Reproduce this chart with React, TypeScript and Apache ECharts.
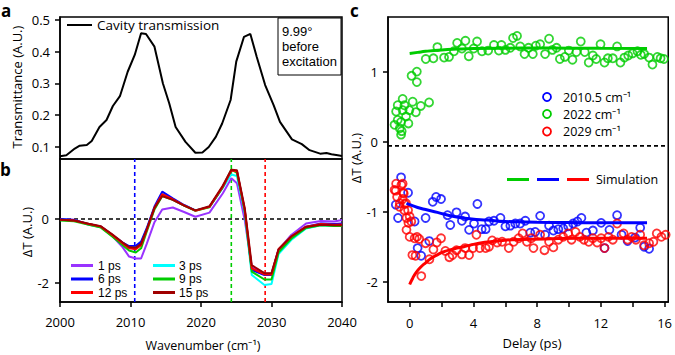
import React, { useEffect, useRef } from "react";
import * as echarts from "echarts";

// ---------- Panel a: cavity transmission ----------
const wnA = [2000, 2000.9, 2002.1, 2002.8, 2003.8, 2004.5, 2005.6, 2006.6, 2007.5, 2008.5, 2009.6, 2010.6, 2011.5, 2012.2, 2013.4, 2014.6, 2015.5, 2016.4, 2017.8, 2019.2, 2020.2, 2021.1, 2022.1, 2023.0, 2024.2, 2025.0, 2026.1, 2027.0, 2027.9, 2029.1, 2030.3, 2031.2, 2032.9, 2034.3, 2035.4, 2036.9, 2037.8, 2038.5, 2039.4, 2040];
const transA = [0.071, 0.074, 0.095, 0.104, 0.106, 0.119, 0.163, 0.185, 0.229, 0.26, 0.337, 0.39, 0.458, 0.456, 0.416, 0.30, 0.237, 0.163, 0.116, 0.082, 0.083, 0.10, 0.132, 0.174, 0.248, 0.369, 0.447, 0.456, 0.384, 0.295, 0.232, 0.179, 0.124, 0.109, 0.090, 0.079, 0.081, 0.077, 0.074, 0.072];
const ticksA = [0.1, 0.2, 0.3, 0.4, 0.5];
const noteA = ["9.99°", "before", "excitation"];

// ---------- Panel b: transient spectra ----------
const wnB = [2000, 2002, 2004.1, 2005.8, 2007.4, 2008.9, 2009.8, 2010.75, 2011.5, 2012.3, 2013.4, 2014.5, 2016, 2017.6, 2019.2, 2021.2, 2023.1, 2024.3, 2025.1, 2026.2, 2027.2, 2029.0, 2030.0, 2031.0, 2032.8, 2034.9, 2037.0, 2038.9, 2040];
const dT1ps = [0, -0.02, -0.18, -0.25, -0.53, -0.89, -1.18, -1.24, -1.24, -0.78, -0.1, 0.3, 0.36, 0.22, 0.07, 0.2, 0.81, 1.28, 1.12, -0.03, -1.5, -1.71, -1.71, -0.97, -0.5, -0.14, -0.06, -0.08, -0.03];
const dT3ps = [-0.01, -0.04, -0.17, -0.25, -0.52, -0.77, -0.88, -0.87, -0.74, -0.32, 0.35, 0.8, 0.62, 0.43, 0.27, 0.38, 0.98, 1.4, 1.35, 0.2, -1.76, -2.07, -2.04, -1.1, -0.66, -0.3, -0.2, -0.22, -0.21];
const dT6ps = [0, -0.03, -0.16, -0.24, -0.5, -0.74, -0.85, -0.84, -0.71, -0.29, 0.39, 0.86, 0.65, 0.44, 0.27, 0.38, 1.01, 1.54, 1.49, 0.28, -1.6, -1.76, -1.76, -0.97, -0.58, -0.24, -0.14, -0.16, -0.14];
const dT9ps = [-0.05, -0.07, -0.18, -0.27, -0.55, -0.82, -0.99, -1.05, -0.92, -0.4, 0.3, 0.72, 0.6, 0.42, 0.26, 0.37, 1.0, 1.55, 1.45, 0.25, -1.65, -1.9, -1.9, -1.05, -0.62, -0.28, -0.2, -0.22, -0.22];
const dT12ps = [-0.02, -0.05, -0.16, -0.24, -0.5, -0.77, -0.92, -0.95, -0.82, -0.35, 0.35, 0.78, 0.62, 0.43, 0.26, 0.38, 1.02, 1.52, 1.5, 0.3, -1.55, -1.74, -1.74, -0.95, -0.55, -0.24, -0.16, -0.18, -0.17];
const dT15ps = [-0.02, -0.05, -0.15, -0.23, -0.48, -0.74, -0.88, -0.9, -0.78, -0.33, 0.35, 0.72, 0.6, 0.42, 0.27, 0.4, 1.05, 1.55, 1.53, 0.35, -1.45, -1.7, -1.7, -0.95, -0.55, -0.25, -0.18, -0.2, -0.2];
const markerWn = [2010.6, 2024.3, 2029.1];
const ticksBx = [2000, 2010, 2020, 2030, 2040];
const ticksBy = [-2, 0];
const legendB1 = ["1 ps", "6 ps", "12 ps"];
const legendB2 = ["3 ps", "9 ps", "15 ps"];

// ---------- Panel c: kinetics ----------
const green2022: number[][] = [
  [-0.95, 0.24], [-0.85, 0.43], [-0.75, 0.52], [-0.75, 0.31], [-0.62, 0.19], [-0.54, 0.28], [-0.54, 0.1], [-0.5, 0.15],
  [-0.44, 0.61], [-0.44, 0.45], [-0.33, 0.52], [-0.23, 0.36], [-0.08, 0.26], [-0.02, 0.45], [0.12, 0.94], [0.19, 0.57],
  [0.39, 0.42], [0.45, 1.0], [0.45, 0.85], [0.7, 0.51], [1.01, 1.18], [1.22, 0.56], [1.49, 1.19], [1.74, 1.35],
  [2.16, 1.2], [2.47, 1.21], [2.78, 1.29], [2.98, 1.41], [3.28, 1.33], [3.5, 1.44], [3.71, 1.22], [4.02, 1.33],
  [4.23, 1.43], [4.54, 1.29], [4.93, 1.3], [5.29, 1.38], [5.6, 1.3], [5.76, 1.38], [6.01, 1.31], [6.32, 1.34],
  [6.49, 1.48], [6.74, 1.51], [6.94, 1.36], [7.21, 1.25], [7.46, 1.34], [7.73, 1.25], [7.92, 1.37], [8.19, 1.39],
  [8.5, 1.25], [8.75, 1.47], [8.96, 1.31], [9.22, 1.34], [9.43, 1.18], [9.74, 1.21], [9.99, 1.3], [10.22, 1.17],
  [10.47, 1.28], [10.74, 1.43], [10.99, 1.28], [11.24, 1.13], [11.5, 1.23], [11.71, 1.18], [11.98, 1.39], [12.23, 1.13],
  [12.44, 1.19], [12.75, 1.19], [13.02, 1.36], [13.23, 1.13], [13.48, 1.2], [13.72, 1.23], [13.99, 1.26], [14.3, 1.29],
  [14.51, 1.24], [14.72, 1.25], [15.03, 1.2], [15.24, 1.1], [15.55, 1.21], [15.75, 1.19], [15.96, 1.18],
];
const blue2010: number[][] = [
  [-0.87, -0.9], [-0.73, -1.09], [-0.54, -0.51], [-0.1, -0.73], [0.31, -1.14], [0.5, -1.52], [0.72, -1.63], [1.0, -1.09],
  [1.23, -1.42], [1.45, -0.86], [1.66, -0.79], [1.97, -0.82], [2.38, -1.05], [2.55, -1.19], [2.94, -1.01], [3.28, -1.13],
  [3.48, -1.07], [3.73, -1.26], [4.04, -1.17], [4.25, -0.89], [4.52, -1.25], [4.77, -1.25], [4.98, -1.14], [5.29, -1.13],
  [5.7, -1.09], [6.01, -1.21], [6.32, -1.2], [6.63, -1.17], [6.94, -1.17], [7.26, -1.13], [7.57, -1.3], [7.88, -1.29],
  [8.19, -1.06], [8.5, -1.33], [8.75, -1.2], [9.02, -1.27], [9.33, -1.25], [9.64, -1.24], [9.95, -1.21], [10.26, -1.17],
  [10.53, -1.14], [10.78, -1.09], [11.09, -1.3], [11.5, -1.27], [12.02, -1.16], [12.23, -1.52], [12.54, -1.26], [13.02, -1.05],
  [13.3, -1.33], [13.68, -1.42], [14.15, -1.37], [14.47, -1.23], [14.72, -1.5], [15.03, -1.53],
];
const red2029: number[][] = [
  [-0.95, -0.69], [-0.87, -0.7], [-0.85, -0.6], [-0.79, -0.79], [-0.64, -0.93], [-0.62, -0.88], [-0.52, -0.62], [-0.44, -0.6],
  [-0.44, -0.82], [-0.41, -0.73], [-0.37, -0.74], [-0.33, -0.98], [-0.31, -0.89], [-0.23, -0.88], [-0.2, -1.09], [-0.2, -1.26],
  [-0.1, -0.98], [-0.08, -1.16], [0, -1.07], [0, -1.36], [0.1, -1.14], [0.17, -1.62], [0.31, -1.38], [0.37, -1.63],
  [0.46, -1.36], [0.6, -1.39], [0.73, -1.92], [1.0, -1.45], [1.24, -1.68], [1.49, -1.54], [1.7, -1.44], [1.97, -1.38],
  [2.24, -1.56], [2.49, -1.65], [2.69, -1.62], [2.94, -1.55], [3.28, -1.61], [3.48, -1.52], [3.73, -1.62], [3.98, -1.52],
  [4.19, -1.33], [4.4, -1.52], [4.77, -1.52], [4.98, -1.5], [5.18, -1.41], [5.49, -1.44], [5.8, -1.43], [6.22, -1.52],
  [6.53, -1.43], [6.84, -1.38], [7.09, -1.31], [7.36, -1.43], [7.63, -1.38], [7.77, -1.52], [8.19, -1.33], [8.46, -1.55],
  [8.75, -1.43], [9.02, -1.51], [9.33, -1.4], [9.64, -1.36], [9.95, -1.31], [10.16, -1.4], [10.41, -1.29], [10.68, -1.36],
  [10.94, -1.4], [11.24, -1.43], [11.5, -1.38], [11.77, -1.44], [12.02, -1.38], [12.23, -1.52], [12.48, -1.36], [12.75, -1.4],
  [13.02, -1.17], [13.43, -1.31], [13.68, -1.4], [13.93, -1.36], [14.2, -1.4], [14.47, -1.33], [14.72, -1.48], [15.03, -1.45],
  [15.3, -1.43], [15.51, -1.31], [15.8, -1.36], [16.07, -1.33],
];
const greenSim: number[][] = [[0, 1.26], [0.5, 1.275], [1, 1.29], [2, 1.31], [3, 1.322], [4, 1.33], [6, 1.335], [8, 1.336], [10, 1.335], [12, 1.333], [14.9, 1.33]];
const blueSim: number[][] = [[-0.2, -0.88], [0, -0.9], [0.5, -0.94], [1, -0.97], [1.74, -1.01], [2.78, -1.07], [3.9, -1.105], [4.85, -1.12], [6, -1.14], [8, -1.15], [10, -1.155], [12, -1.157], [14.9, -1.157]];
const redSim: number[][] = [[0, -2.04], [0.19, -1.95], [0.4, -1.87], [0.7, -1.79], [1.0, -1.73], [1.33, -1.67], [1.7, -1.62], [2.16, -1.57], [2.8, -1.53], [3.4, -1.5], [4.35, -1.45], [5.5, -1.42], [6.43, -1.4], [8.5, -1.39], [10.57, -1.38], [14.9, -1.38]];
const zeroLevelC = -0.06;
const ticksCx = [0, 2, 4, 6, 8, 10, 12, 14, 16];
const labelsCx = [0, 4, 8, 12, 16];
const ticksCy = [-2, -1, 0, 1];

const FONT = "Open Sans";
const FONT_LEG = "Liberation Sans";
const C_PURPLE = "#9933ff";
const C_CYAN = "#00ffff";
const C_BLUE = "#0000ff";
const C_GREEN = "#00cc00";
const C_RED = "#ff0000";
const C_DARKRED = "#a00000";

const zip = (xs: number[], ys: number[]) => xs.map((x, i) => [x, ys[i]]);

export default function App() {
  const ref = useRef<HTMLDivElement>(null);
  useEffect(() => {
    if (!ref.current) return;
    const chart = echarts.init(ref.current, undefined, { renderer: "svg" });

    const axisLine = { show: true, onZero: false, lineStyle: { color: "#000", width: 1.5 } };
    const axisTick = (vals: number[]) => ({ show: true, inside: false, length: 5, customValues: vals, lineStyle: { color: "#000", width: 1.5 } });
    const axisLabel = (vals: number[], margin: number, fmt?: (v: number) => string) => ({
      show: true, customValues: vals, margin, color: "#000", fontSize: 13, fontFamily: FONT,
      formatter: fmt || ((v: number) => String(v)),
    });
    const grid = (left: number, top: number, width: number, height: number) => ({
      left, top, width, height, show: true, borderColor: "#000", borderWidth: 1.5, backgroundColor: "transparent",
    });

    const lineSeries = (data: number[][], color: string, xi: number, width = 2, extra: any = {}) => ({
      type: "line", xAxisIndex: xi, yAxisIndex: xi, data, showSymbol: false, symbol: "none",
      lineStyle: { color, width }, itemStyle: { color }, silent: true, ...extra,
    });
    const dashSeries = (data: number[][], color: string, xi: number) =>
      lineSeries(data, color, xi, 1.5, { lineStyle: { color, width: 1.6, type: [4, 3] }, z: 1 });
    const scatter = (data: number[][], color: string) => ({
      type: "scatter", xAxisIndex: 2, yAxisIndex: 2, data, symbol: "circle", symbolSize: 8,
      itemStyle: { color: "rgba(0,0,0,0)", borderColor: color, borderWidth: 1.8 }, silent: true,
    });

    const legendLine = (x: number, y: number, color: string, w = 22, lw = 3) => ({
      type: "line", shape: { x1: x, y1: y, x2: x + w, y2: y }, style: { stroke: color, lineWidth: lw }, silent: true,
    });
    const txt = (x: number, y: number, text: string, size = 13, align = "left", lh?: number, family = FONT) => ({
      type: "text", x, y, silent: true,
      style: { text, fill: "#000", font: `${size}px "${family}"`, lineHeight: lh || size, align, verticalAlign: "middle", textAlign: align, textVerticalAlign: "middle" },
    });
    const vtxt = (x: number, y: number, text: string, size = 13) => ({
      type: "text", x, y, rotation: Math.PI / 2, silent: true,
      style: { text, fill: "#000", font: `${size}px "${FONT}"`, align: "center", verticalAlign: "middle", textAlign: "center", textVerticalAlign: "middle" },
    });
    const letter = (x: number, y: number, text: string) => ({
      type: "text", x, y, silent: true,
      style: { text, fill: "#000", font: `bold 17px "${FONT}"`, lineHeight: 16, align: "left", verticalAlign: "top", textAlign: "left", textVerticalAlign: "top" },
    });
    const legendCircle = (x: number, y: number, color: string) => ({
      type: "circle", shape: { cx: x, cy: y, r: 4 }, style: { fill: "none", stroke: color, lineWidth: 1.8 }, silent: true,
    });

    const bMin = -2.606, bMax = 1.884;
    const rowsB = [265.5, 279, 292.5];
    const rowsNote = [31.5, 46.5, 61.5];

    chart.setOption({
      animation: false,
      backgroundColor: "#fff",
      grid: [grid(60, 17, 282, 142), grid(60, 159, 282, 143), grid(388, 17, 284, 285)],
      xAxis: [
        { type: "value", gridIndex: 0, min: 2000, max: 2040, axisLine: { show: false }, axisTick: { show: false }, axisLabel: { show: false }, splitLine: { show: false } },
        { type: "value", gridIndex: 1, min: 2000, max: 2040, axisLine, axisTick: axisTick(ticksBx), axisLabel: axisLabel(ticksBx, 13), splitLine: { show: false } },
        { type: "value", gridIndex: 2, min: -1.36, max: 16.23, axisLine, axisTick: axisTick(ticksCx), axisLabel: axisLabel(labelsCx, 14), splitLine: { show: false } },
      ],
      yAxis: [
        { type: "value", gridIndex: 0, min: 0.0622, max: 0.5094, axisLine, axisTick: axisTick(ticksA), axisLabel: axisLabel(ticksA, 10, (v: number) => v.toFixed(1)), splitLine: { show: false } },
        { type: "value", gridIndex: 1, min: bMin, max: bMax, axisLine, axisTick: axisTick(ticksBy), axisLabel: axisLabel(ticksBy, 11), splitLine: { show: false } },
        { type: "value", gridIndex: 2, min: -2.29, max: 1.78, axisLine, axisTick: axisTick(ticksCy), axisLabel: axisLabel(ticksCy, 10), splitLine: { show: false } },
      ],
      series: [
        lineSeries(zip(wnA, transA), "#000", 0, 2),
        dashSeries([[2000, 0], [2040, 0]], "#000", 1),
        dashSeries([[markerWn[0], bMin], [markerWn[0], bMax]], C_BLUE, 1),
        dashSeries([[markerWn[1], bMin], [markerWn[1], bMax]], C_GREEN, 1),
        dashSeries([[markerWn[2], bMin], [markerWn[2], bMax]], C_RED, 1),
        lineSeries(zip(wnB, dT1ps), C_PURPLE, 1, 2),
        lineSeries(zip(wnB, dT3ps), C_CYAN, 1, 2),
        lineSeries(zip(wnB, dT6ps), C_BLUE, 1, 2),
        lineSeries(zip(wnB, dT9ps), C_GREEN, 1, 2),
        lineSeries(zip(wnB, dT12ps), C_RED, 1, 2),
        lineSeries(zip(wnB, dT15ps), C_DARKRED, 1, 2),
        dashSeries([[-1.36, zeroLevelC], [16.23, zeroLevelC]], "#000", 2),
        scatter(green2022, C_GREEN),
        scatter(blue2010, C_BLUE),
        scatter(red2029, C_RED),
        lineSeries(greenSim, C_GREEN, 2, 3, { smooth: true }),
        lineSeries(blueSim, C_BLUE, 2, 3, { smooth: true }),
        lineSeries(redSim, C_RED, 2, 3, { smooth: true }),
      ],
      graphic: [
        letter(1, 2, "a"),
        letter(0, 161, "b"),
        letter(350, 2, "c"),
        vtxt(17, 87, "Transmittance (A.U.)"),
        vtxt(27, 232, "ΔT (A.U.)"),
        vtxt(356, 158, "ΔT (A.U.)"),
        txt(203, 345.5, "Wavenumber (cm⁻¹)", 12.5, "center"),
        txt(532, 343, "Delay (ps)", 13, "center"),
        // panel a legend + annotation
        legendLine(67, 25, "#000", 25, 2),
        txt(97, 25, "Cavity transmission", 13.5),
        { type: "rect", shape: { x: 278, y: 18, width: 63, height: 57 }, style: { fill: "#fff", stroke: "#000", lineWidth: 1 }, silent: true },
        txt(282, rowsNote[0], noteA[0], 13, "left", 14, FONT_LEG),
        txt(282, rowsNote[1], noteA[1], 13, "left", 14, FONT_LEG),
        txt(282, rowsNote[2], noteA[2], 13, "left", 14, FONT_LEG),
        // panel b legend
        legendLine(71, rowsB[0], C_PURPLE), txt(98, rowsB[0], legendB1[0], 12, "left", 13, FONT_LEG),
        legendLine(71, rowsB[1], C_BLUE), txt(98, rowsB[1], legendB1[1], 12, "left", 13, FONT_LEG),
        legendLine(71, rowsB[2], C_RED), txt(98, rowsB[2], legendB1[2], 12, "left", 13, FONT_LEG),
        legendLine(153, rowsB[0], C_CYAN), txt(179, rowsB[0], legendB2[0], 12, "left", 13, FONT_LEG),
        legendLine(153, rowsB[1], C_GREEN), txt(179, rowsB[1], legendB2[1], 12, "left", 13, FONT_LEG),
        legendLine(153, rowsB[2], C_DARKRED), txt(179, rowsB[2], legendB2[2], 12, "left", 13, FONT_LEG),
        // panel c legend
        legendCircle(547, 97, C_BLUE), txt(563, 97, "2010.5 cm⁻¹", 12.5),
        legendCircle(547, 114, C_GREEN), txt(563, 114, "2022 cm⁻¹", 12.5),
        legendCircle(547, 131.5, C_RED), txt(563, 131.5, "2029 cm⁻¹", 12.5),
        legendLine(507, 179.5, C_GREEN), legendLine(537, 179.5, C_BLUE), legendLine(567, 179.5, C_RED),
        txt(596, 179.5, "Simulation", 12.5),
      ],
    });
    return () => chart.dispose();
  }, []);
  return <div ref={ref} style={{ position: "fixed", left: 0, top: 0, width: 675, height: 355 }} />;
}
